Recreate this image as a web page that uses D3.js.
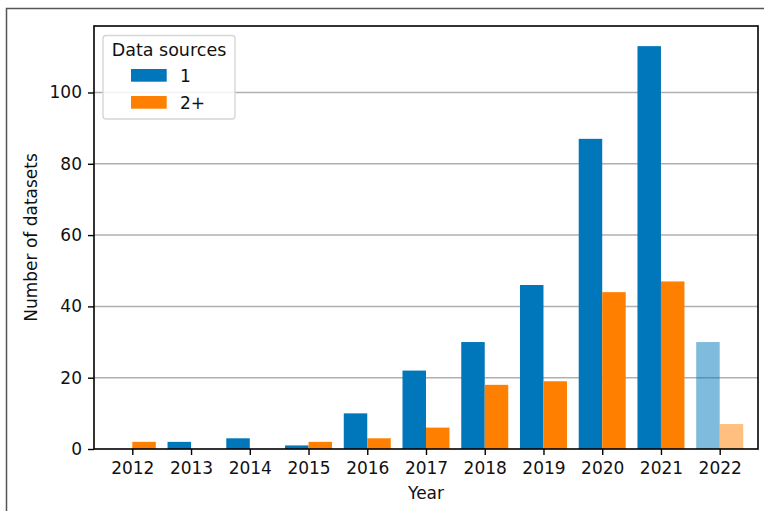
<!DOCTYPE html>
<html>
<head>
<meta charset="utf-8">
<script src="https://cdn.jsdelivr.net/npm/d3@7"></script>
<style>
  body { margin: 0; background: #fff; }
  svg { display: block; font-family: "DejaVu Sans", sans-serif; }
</style>
</head>
<body>
<svg id="chart" width="764" height="511"></svg>
<script>
// data
const years = [2012, 2013, 2014, 2015, 2016, 2017, 2018, 2019, 2020, 2021, 2022];
const oneSource = [0, 2, 3, 1, 10, 22, 30, 46, 87, 113, 30];
const twoPlus = [2, 0, 0, 2, 3, 6, 18, 19, 44, 47, 7];
const partialYears = [2022];
const yTicks = [0, 20, 40, 60, 80, 100];
const seriesNames = ["1", "2+"];
const colors = ["#0077bb", "#ff8000"];

const svg = d3.select("#chart");
const margin = { top: 26, right: 6, bottom: 62, left: 94 };
const W = 764, H = 511;

// outer frame of the original figure
svg.append("rect")
  .attr("x", 6.5).attr("y", 8.5)
  .attr("width", 900).attr("height", 900)
  .attr("fill", "none")
  .attr("stroke", "#555")
  .attr("stroke-width", 1.5);

const barW = 0.4;
var x = d3.scaleLinear()
  .domain([2011.348, 2022.652])
  .range([margin.left, W - margin.right]);
var y = d3.scaleLinear()
  .domain([0, d3.max(oneSource) * 1.05])
  .range([H - margin.bottom, margin.top]);

// grid
svg.append("g")
  .selectAll("line")
  .data(yTicks.filter(d => d > 0))
  .enter()
  .append("line")
  .attr("x1", margin.left).attr("x2", W - margin.right)
  .attr("y1", d => y(d)).attr("y2", d => y(d))
  .attr("stroke", "#b0b0b0")
  .attr("stroke-width", 1.5);

// bars
const series = [oneSource, twoPlus];
series.forEach(function (vals, s) {
  svg.append("g")
    .selectAll("rect")
    .data(years.map((yr, i) => ({ yr: yr, v: vals[i] })))
    .enter()
    .append("rect")
    .attr("x", d => x(d.yr + (s === 0 ? -barW : 0)))
    .attr("width", d => x(d.yr + barW) - x(d.yr))
    .attr("y", d => y(d.v))
    .attr("height", d => y(0) - y(d.v))
    .attr("fill", colors[s])
    .attr("fill-opacity", d => partialYears.includes(d.yr) ? 0.5 : 1);
});

// axes
var xAxis = d3.axisBottom(x)
  .tickValues(years)
  .tickFormat(d3.format("d"))
  .tickSize(6)
  .tickPadding(7);
var yAxis = d3.axisLeft(y)
  .tickValues(yTicks)
  .tickSize(6)
  .tickPadding(6);

const gx = svg.append("g")
  .attr("transform", "translate(0," + (H - margin.bottom) + ")")
  .call(xAxis);
const gy = svg.append("g")
  .attr("transform", "translate(" + margin.left + ",0)")
  .call(yAxis);

[gx, gy].forEach(function (g) {
  g.select(".domain").remove();
  g.selectAll(".tick line").attr("stroke", "#000").attr("stroke-width", 1.4);
  g.selectAll(".tick text")
    .attr("fill", "#111")
    .attr("font-size", "17px")
    .attr("font-family", "DejaVu Sans");
});

// spines
svg.append("rect")
  .attr("x", margin.left).attr("y", margin.top)
  .attr("width", W - margin.right - margin.left)
  .attr("height", H - margin.bottom - margin.top)
  .attr("fill", "none")
  .attr("stroke", "#000")
  .attr("stroke-width", 1.6);

// axis labels
svg.append("text")
  .attr("x", (margin.left + W - margin.right) / 2)
  .attr("y", 499)
  .attr("text-anchor", "middle")
  .attr("font-size", "17px")
  .attr("fill", "#111")
  .text("Year");

svg.append("text")
  .attr("transform", "translate(36.5," + ((margin.top + H - margin.bottom) / 2) + ") rotate(-90)")
  .attr("text-anchor", "middle")
  .attr("font-size", "17px")
  .attr("fill", "#111")
  .text("Number of datasets");

// legend
const lg = svg.append("g");
lg.append("rect")
  .attr("x", 103).attr("y", 35.5)
  .attr("width", 132).attr("height", 83.5)
  .attr("rx", 3)
  .attr("fill", "#fff").attr("fill-opacity", 0.85)
  .attr("stroke", "#d6d6d6")
  .attr("stroke-width", 1.4);
lg.append("text")
  .attr("x", 169).attr("y", 56)
  .attr("text-anchor", "middle")
  .attr("font-size", "17.5px")
  .attr("fill", "#111")
  .text("Data sources");
seriesNames.forEach(function (name, i) {
  lg.append("rect")
    .attr("x", 131).attr("y", 69 + i * 27)
    .attr("width", 35.7).attr("height", 12.7)
    .attr("fill", colors[i]);
  lg.append("text")
    .attr("x", 180).attr("y", 82.3 + i * 26.6)
    .attr("font-size", "17px")
    .attr("fill", "#111")
    .text(name);
});
</script>
</body>
</html>
